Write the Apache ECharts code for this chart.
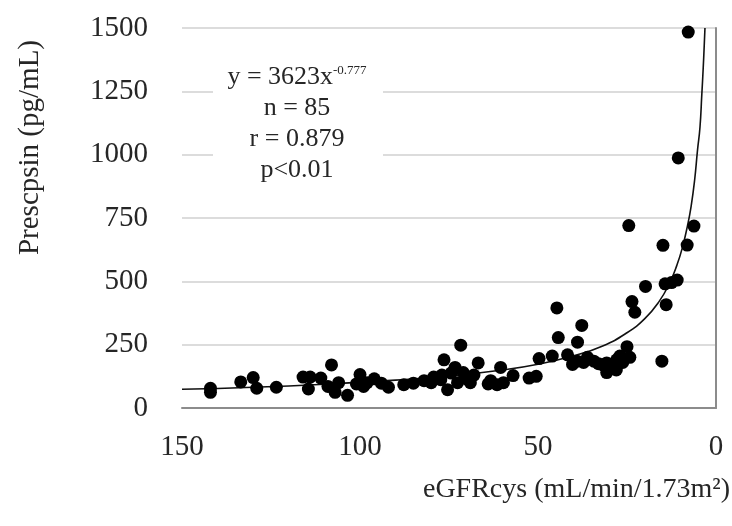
<!DOCTYPE html>
<html>
<head>
<meta charset="utf-8">
<script src="https://cdn.jsdelivr.net/npm/echarts@6/dist/echarts.min.js"></script>
<style>html,body{margin:0;padding:0;background:#fff}#c{width:732px;height:526px}</style>
</head>
<body>
<div id="c"></div>
<script>
// eGFRcys (mL/min/1.73m2) of each patient
const egfr = [142,142,133.5,130,129,123.5,116,114,114.5,108,109,106,107,103.5,100,99,98,96,92,87.7,85,82,79.3,77.3,76.4,75.4,74.4,73.3,71.7,71,72.6,70,66.8,69,63.3,61.5,60.5,59.7,52.5,50.5,49.7,44.7,44.3,41.7,40.3,38.9,37.7,37.2,36.1,34.3,31.8,30.7,30.7,29.5,27.9,27,26.2,25,24.5,24.2,23.6,22.8,19.8,15.2,14.9,14.3,14,10.9,10.6,8.1,7.8,6.2,111,101,94,80,77,68,64,57,46,39,33,28,12.5];
// Presepsin (pg/mL) of each patient
const presepsin = [62,78,103,120,78,82,122,122,75,170,85,100,62,50,132,85,100,115,82,92,98,108,122,112,190,72,138,160,248,140,100,115,178,100,108,92,160,100,118,125,195,395,278,210,172,260,326,180,200,185,170,140,178,160,190,205,180,242,720,200,420,378,480,185,642,490,408,505,987,643,1484,718,118,95,98,100,130,130,95,128,205,185,175,150,495];
// fitted power curve
const fitX = [150,130,110,90,75,60,50,40,32,25,20,16,13,11,9.5,8,7,6,5.2,4.5,4,3.6,3.3,3.1];
const fitY = [74,82,94,110,126,150,173,206,244,297,353,420,494,563,630,720,795,900,1017,1108,1234,1340,1433,1500];
const yTicks = [0,250,500,750,1000,1250,1500];
const xTicks = [0,50,100,150];
const eqMain = 'y = 3623x';
const eqExp = '-0.777';
const statLines = ['n = 85', 'r = 0.879', 'p<0.01'];

const FONT = '"Liberation Serif", "Times New Roman", serif';
const TXT = '#262626';
const chart = echarts.init(document.getElementById('c'), null, {renderer: 'canvas'});
const pts = egfr.map((x, i) => [x, presepsin[i]]);
const fit = fitX.map((x, i) => [x, fitY[i]]);

const eqGraphic = [
  {type: 'rect', shape: {x: 213, y: 62, width: 170, height: 124}, style: {fill: '#fff'}, z: 9},
  {type: 'text', x: 297, y: 77, z: 10,
   style: {text: '{a|' + eqMain + '}{s|' + eqExp + '}', align: 'center', verticalAlign: 'middle',
     rich: {
       a: {fontFamily: FONT, fontSize: 26, lineHeight: 31, fill: TXT},
       s: {fontFamily: FONT, fontSize: 13, lineHeight: 31, verticalAlign: 'top', fill: TXT, padding: [3, 0, 0, 0]}
     }}}
];
statLines.forEach((t, i) => {
  eqGraphic.push({type: 'text', x: 297, y: 108 + i * 31, z: 10,
    style: {text: t, align: 'center', verticalAlign: 'middle', font: '26px ' + FONT, fill: TXT}});
});

chart.setOption({
  animation: false,
  backgroundColor: '#fff',
  grid: {left: 182, right: 16, top: 28, bottom: 118, containLabel: false},
  xAxis: {
    type: 'value', inverse: true,
    min: xTicks[0], max: xTicks[xTicks.length - 1], interval: 50,
    axisLine: {show: true, onZero: false, lineStyle: {color: '#8c8c8c', width: 2}},
    axisTick: {show: false},
    splitLine: {show: false},
    axisLabel: {margin: 25, fontFamily: FONT, fontSize: 29, color: TXT, formatter: v => String(v)}
  },
  yAxis: {
    type: 'value',
    min: yTicks[0], max: yTicks[yTicks.length - 1], interval: 250,
    axisLine: {show: true, lineStyle: {color: '#8c8c8c', width: 2}},
    axisTick: {show: false},
    splitLine: {show: true, lineStyle: {color: '#dcdcdc', width: 2}},
    axisLabel: {margin: 34, fontFamily: FONT, fontSize: 29, color: TXT, formatter: v => String(v)}
  },
  series: [
    {
      type: 'line', data: fit, smooth: true, showSymbol: false, symbol: 'none',
      lineStyle: {color: '#111', width: 1.6}, z: 3
    },
    {
      type: 'scatter', data: pts, symbol: 'circle', symbolSize: 13,
      itemStyle: {color: '#000', opacity: 1}, z: 4
    }
  ],
  graphic: eqGraphic.concat([
    {
      type: 'text', left: 16, top: 40, rotation: Math.PI / 2, z: 10,
      style: {text: 'Prescpsin (pg/mL)', font: '29px ' + FONT, fill: TXT}
    },
    {
      type: 'text', right: 2, top: 476, z: 10,
      style: {text: 'eGFRcys (mL/min/1.73m²)', font: '28px ' + FONT, fill: TXT}
    }
  ])
});
</script>
</body>
</html>
